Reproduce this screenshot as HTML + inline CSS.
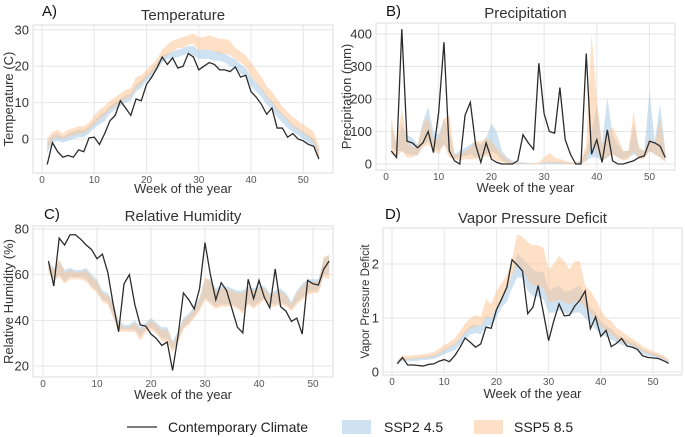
<!DOCTYPE html>
<html><head><meta charset="utf-8"><style>
body{margin:0;background:#fff;width:685px;height:437px;overflow:hidden;font-family:"Liberation Sans",sans-serif}
svg{display:block}
</style></head><body>
<svg id="chart" width="685" height="437" viewBox="0 0 685 437"></svg>
<script>
const weeks = Array.from({length:53},(_,i)=>i+1);
// A temperature
const tempObs = [-7,-1,-3.5,-5,-4.5,-5,-3,-3.5,0.3,0.5,-1.5,1.5,5,6.5,10.5,8.5,6.5,11,10.5,15,17,19.5,22.5,20.5,22.3,19.5,20,23.5,22.5,19,20,21,20.5,19,19,18.5,19.8,17,17.5,13,11.5,9.5,6.8,8.5,3,3,0.5,1.5,0,-0.5,-1.5,-2,-5.5];
const tempSsp2Lo = [-4,-1,-0.5,-1,-0.5,0,0.5,0.5,1.5,3,4,5,7,8,9,10,10.5,13,14,16,17,19,21,22,22,22.5,23,23.5,23,22,22,22,21.5,21.5,21,20,19.5,18,17,14.5,13,11.5,9.5,8,6,4.5,3,2,1,0,-1,-2,-6];
const tempSsp2Hi = [-1,1,1.5,0.5,1.5,2,2.5,2.5,3.5,5,6.5,7.5,9,10,11,12,12.5,15,16,17.5,19,21,23,23.5,24,24.5,25,25.5,25.5,24.5,24.5,24.5,24,24,23.5,22.5,22,20.5,19.5,17,15.5,14,12,10.5,8.5,7,5.5,4,3,2,1,0,-3];
const tempSsp5Lo = [-3,0,0.5,0,0.5,1,1.5,1.5,2.5,4,5.5,6.5,8,9,10,11,11.5,14,15,17,18,20,22,23,24,25,25,26,26,24.5,24.5,24.5,24,23.5,23.5,23,22,21,20,17,15.5,13.5,11.5,10,8,6.5,5,3.5,2.5,1.5,0.5,-1,-5];
const tempSsp5Hi = [0,2,2.5,1.5,2.5,3,3.5,3.5,4.5,6.5,8,9,10.5,11.5,12.5,13.5,14,17,17.5,19,20.5,22,24.5,26,27,27.5,28,28.5,29,28,28,28.5,28,27.5,27.5,27,25,24,23,21,19,17,14.5,13,11,9,7.5,6,5,4,3,2,-2];
// B precipitation
const precObs = [40,20,415,70,65,50,65,100,35,160,375,40,10,0,150,190,60,5,65,15,5,0,0,0,10,90,65,45,310,155,100,95,235,75,30,0,0,340,30,75,5,105,10,0,0,5,10,20,25,70,65,55,20];
const precSsp2Lo = [50,40,40,30,30,25,60,70,60,40,60,40,15,20,25,30,20,20,30,40,30,10,5,0,0,0,0,0,0,0,0,0,0,0,0,0,2,10,20,20,10,20,30,20,15,20,30,20,20,40,30,20,10];
const precSsp2Hi = [120,60,120,90,80,60,130,175,100,90,140,100,30,40,50,60,70,60,80,125,100,40,20,10,5,5,3,2,2,5,8,6,5,4,3,3,10,40,100,180,60,205,90,60,40,40,120,50,40,225,70,185,40];
const precSsp5Lo = [30,20,40,20,20,30,50,60,40,30,60,20,15,10,15,15,15,20,25,20,10,5,2,0,0,0,0,0,0,5,5,3,2,0,0,0,0,10,60,40,10,20,30,20,10,15,40,15,15,40,30,20,5];
const precSsp5Hi = [145,60,170,70,50,60,120,145,70,80,140,150,30,30,40,50,70,70,80,70,50,30,15,5,3,2,2,2,5,20,35,20,15,10,5,5,10,60,400,200,60,90,115,80,40,40,160,50,40,80,60,140,35];
// C relative humidity
const rhObs = [66,55,76,73,77.5,77.5,75.5,73,71,67,69,61,47,35,56,60,47,38,37.5,34,32,29,30.5,18,33,52,49,45,54,74,60,49,56.5,53,45,37,34.5,58,49.5,57.5,50,45.5,62.5,46,44,39.5,41,34,57.5,56,55.5,62.5,66];
const rhSsp2Lo = [62,58,60,57,59,59,59,58,55,53,49,48,42,36,36,36,36,33,36,37,35,32,32,27,31,37,39,42,45,50,48,46,47,47,47,46,44,48,46,48,50,47,47,48,47,45,48,50,52,53,53,60,60];
const rhSsp2Hi = [66,63,66,62,63,62,62,63,60,58,53,52,48,40,38,38,40,37,39,41,39,37,37,31,35,41,43,46,50,58,58,54,55,55,54,53,53,55,54,55,55,52,53,54,52,48,53,56,58,58,58,67,69];
const rhSsp5Lo = [61,57,59,56,58,58,58,57,54,52,48,47,41,35,35,35,35,31,35,36,34,31,30,26,30,36,38,41,44,49,47,45,46,46,46,45,43,47,45,47,49,46,46,47,46,44,47,49,51,52,52,59,58];
const rhSsp5Hi = [65,62,67,61,62,61,61,62,59,57,52,51,47,39,37,37,39,36,38,40,38,36,36,30,34,40,42,45,49,59,57,53,54,54,53,52,52,54,53,54,54,51,52,53,51,47,52,55,57,57,57,68,68];
// D vapor pressure deficit
const vpdObs = [0.15,0.27,0.13,0.13,0.12,0.11,0.14,0.15,0.2,0.23,0.19,0.3,0.45,0.63,0.55,0.46,0.52,0.83,0.81,1.15,1.35,1.57,2.08,1.98,1.87,1.08,1.2,1.6,1.1,0.58,0.95,1.26,1.04,1.05,1.22,1.33,1.5,0.8,1.02,0.66,0.77,0.47,0.53,0.62,0.48,0.46,0.42,0.3,0.27,0.26,0.25,0.21,0.16];
const vpdSsp2Lo = [0.15,0.2,0.2,0.2,0.21,0.22,0.23,0.24,0.28,0.33,0.37,0.4,0.5,0.6,0.7,0.72,0.7,0.85,0.85,1.0,1.2,1.3,1.55,1.75,1.75,1.5,1.4,1.4,1.35,1.1,1.1,1.15,1.1,1.05,1.1,1.1,1.0,0.9,0.8,0.7,0.65,0.6,0.55,0.5,0.48,0.45,0.4,0.33,0.3,0.28,0.25,0.22,0.16];
const vpdSsp2Hi = [0.2,0.27,0.25,0.26,0.27,0.28,0.3,0.31,0.36,0.42,0.47,0.52,0.62,0.75,0.85,0.88,0.85,1.05,1.0,1.2,1.4,1.55,1.8,2.2,2.1,2.0,1.9,1.85,1.85,1.5,1.55,1.6,1.5,1.5,1.55,1.6,1.4,1.2,1.1,0.95,0.85,0.8,0.7,0.65,0.6,0.55,0.5,0.42,0.38,0.35,0.32,0.28,0.2];
const vpdSsp5Lo = [0.17,0.22,0.23,0.24,0.25,0.26,0.27,0.28,0.33,0.4,0.45,0.5,0.6,0.72,0.8,0.85,0.85,1.0,1.0,1.2,1.35,1.5,1.8,2.0,1.9,1.7,1.6,1.6,1.55,1.3,1.3,1.35,1.3,1.25,1.3,1.3,1.2,1.1,0.95,0.85,0.75,0.7,0.6,0.55,0.52,0.5,0.45,0.38,0.34,0.31,0.28,0.24,0.18];
const vpdSsp5Hi = [0.22,0.3,0.3,0.31,0.32,0.33,0.35,0.37,0.43,0.5,0.55,0.62,0.75,0.9,1.0,1.05,1.02,1.35,1.25,1.5,1.65,1.8,2.1,2.55,2.5,2.4,2.35,2.35,2.3,1.9,2.0,2.15,2.05,1.9,2.05,2.05,1.6,1.5,1.35,1.15,1.0,0.95,0.82,0.75,0.68,0.62,0.56,0.48,0.43,0.39,0.35,0.31,0.24];
const xTicks = [0,10,20,30,40,50];
const tempTicks = [0,10,20,30];
const precTicks = [0,100,200,300,400];
const rhTicks = [20,40,60,80];
const vpdTicks = [0,1,2];

const NS='http://www.w3.org/2000/svg';
const svg=document.getElementById('chart');
function mk(tag,attrs,parent){const e=document.createElementNS(NS,tag);for(const k in attrs)e.setAttribute(k,attrs[k]);(parent||svg).appendChild(e);return e;}

function panel(cfg){
  const g=mk('g',{});
  
  
  const X=w=>cfg.x0+w*cfg.xs;
  const Y=v=>cfg.y0-(v-cfg.vb)*cfg.ys;
  const bg=mk('rect',{x:cfg.l,y:cfg.t,width:cfg.r-cfg.l,height:cfg.b-cfg.t,fill:'#fff',stroke:'#dcdcdc','stroke-width':1},g);
  
  
  xTicks.forEach(t=>{
    const gl=mk('line',{x1:X(t),x2:X(t),y1:cfg.t,y2:cfg.b,stroke:'#e6e6e6','stroke-width':1},g);
    
    
    const tl=mk('text',{x:X(t),y:cfg.b+10,'font-size':10,fill:'#555','text-anchor':'middle'},g);
    tl.textContent=t;
    
    
  });
  cfg.ticks.forEach(t=>{
    const gl=mk('line',{x1:cfg.l,x2:cfg.r,y1:Y(t),y2:Y(t),stroke:'#e6e6e6','stroke-width':1},g);
    
    
    const tl=mk('text',{x:cfg.l-4,y:Y(t)+4.5,'font-size':13,fill:'#333','text-anchor':'end'},g);
    tl.textContent=t;
    
    
  });
  function band(lo,hi,color,nm){
    let d='M'+weeks.map((w,i)=>X(w)+','+Y(hi[i])).join('L');
    d+='L'+weeks.slice().reverse().map((w,j)=>{const i=weeks.length-1-j;return X(w)+','+Y(lo[i]);}).join('L')+'Z';
    const p=mk('path',{d:d,fill:color,'fill-opacity':0.5,stroke:'none'},g);
    
    
  }
  band(cfg.b2lo,cfg.b2hi,'#9fc5e3',cfg.name+'-ssp2-band');
  band(cfg.b5lo,cfg.b5hi,'#fdc18f',cfg.name+'-ssp5-band');
  const ln=mk('polyline',{points:weeks.map((w,i)=>X(w)+','+Y(cfg.obs[i])).join(' '),fill:'none',stroke:'#2b2b2b','stroke-width':1.3},g);
  
  
  const ti=mk('text',{x:(cfg.l+cfg.r)/2,y:cfg.t-5,'font-size':15,fill:'#333','text-anchor':'middle'},g);
  ti.textContent=cfg.title;
  
  
  const lb=mk('text',{x:cfg.lx,y:cfg.ly,'font-size':15,fill:'#111'},g);
  lb.textContent=cfg.label;
  
  
  const xl=mk('text',{x:(cfg.l+cfg.r)/2,y:cfg.xly,'font-size':13,fill:'#333','text-anchor':'middle'},g);
  xl.textContent='Week of the year';
  
  
  const cy=(cfg.t+cfg.b)/2;
  const yl=mk('text',{x:cfg.ylx,y:cy,'font-size':cfg.ylfs,fill:'#333','text-anchor':'middle',transform:'rotate(-90 '+cfg.ylx+' '+cy+')'},g);
  yl.textContent=cfg.ytitle;
  
  
}
panel({name:'temperature',l:33,r:333,t:25,b:173,x0:42,xs:5.225,y0:139,vb:0,ys:3.64,ticks:tempTicks,obs:tempObs,b2lo:tempSsp2Lo,b2hi:tempSsp2Hi,b5lo:tempSsp5Lo,b5hi:tempSsp5Hi,title:'Temperature',label:'A)',lx:42,ly:16,xly:193,ylx:13,ylfs:13,ytitle:'Temperature (C)'});
panel({name:'precipitation',l:376,r:675,t:23,b:170,x0:386,xs:5.27,y0:164,vb:0,ys:0.325,ticks:precTicks,obs:precObs,b2lo:precSsp2Lo,b2hi:precSsp2Hi,b5lo:precSsp5Lo,b5hi:precSsp5Hi,title:'Precipitation',label:'B)',lx:386,ly:16,xly:192,ylx:351,ylfs:13,ytitle:'Precipitation (mm)'});
panel({name:'relative-humidity',l:33,r:333,t:226,b:377,x0:43,xs:5.4,y0:366,vb:20,ys:2.283,ticks:rhTicks,obs:rhObs,b2lo:rhSsp2Lo,b2hi:rhSsp2Hi,b5lo:rhSsp5Lo,b5hi:rhSsp5Hi,title:'Relative Humidity',label:'C)',lx:44,ly:219,xly:399,ylx:13,ylfs:13,ytitle:'Relative Humidity (%)'});
panel({name:'vapor-pressure-deficit',l:383,r:682,t:228,b:375,x0:392,xs:5.22,y0:372,vb:0,ys:54,ticks:vpdTicks,obs:vpdObs,b2lo:vpdSsp2Lo,b2hi:vpdSsp2Hi,b5lo:vpdSsp5Lo,b5hi:vpdSsp5Hi,title:'Vapor Pressure Deficit',label:'D)',lx:385,ly:219,xly:398,ylx:369,ylfs:11.5,ytitle:'Vapor Pressure Deficit'});

// legend
const lg=mk('g',{});


const l1=mk('line',{x1:127,x2:157,y1:427,y2:427,stroke:'#2b2b2b','stroke-width':1.3},lg);


const t1=mk('text',{x:168,y:432,'font-size':14,fill:'#222'},lg);t1.textContent='Contemporary Climate';


const r2=mk('rect',{x:342,y:420,width:29,height:14,fill:'#9fc5e3','fill-opacity':0.5},lg);


const t2=mk('text',{x:384,y:432,'font-size':14,fill:'#222'},lg);t2.textContent='SSP2 4.5';


const r5=mk('rect',{x:474,y:420,width:29,height:14,fill:'#fdc18f','fill-opacity':0.5},lg);


const t5=mk('text',{x:514,y:432,'font-size':14,fill:'#222'},lg);t5.textContent='SSP5 8.5';


</script>
</body></html>
